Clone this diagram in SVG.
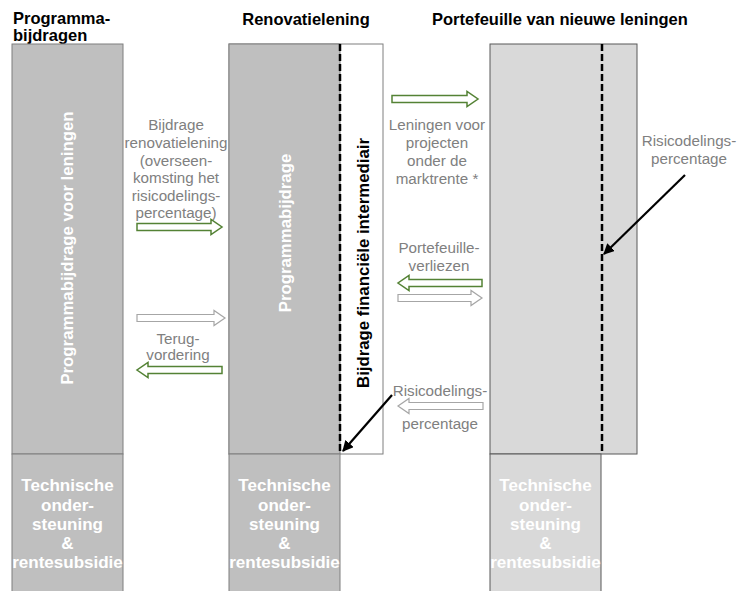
<svg xmlns="http://www.w3.org/2000/svg" width="737" height="591" viewBox="0 0 737 591">
<defs>
<style>
.title{font-family:"Liberation Sans",Arial,sans-serif;font-weight:bold;font-size:16.5px;fill:#000}
.lbl{font-family:"Liberation Sans",Arial,sans-serif;font-size:15.2px;fill:#808080;text-anchor:middle}
.bot{font-family:"Liberation Sans",Arial,sans-serif;font-weight:bold;font-size:17px;fill:#fff;text-anchor:middle}
.vert{font-family:"Liberation Sans",Arial,sans-serif;font-weight:bold;font-size:16.8px;text-anchor:middle}
.dark{fill:#bfbfbf;stroke:#7f7f7f;stroke-width:1}
.light{fill:#d9d9d9;stroke:#595959;stroke-width:1}
.white{fill:#fff;stroke:#7f7f7f;stroke-width:1}
.dash{stroke:#000;stroke-width:2.5;stroke-dasharray:7,3;fill:none}
.garr{fill:#fff;stroke:#548235;stroke-width:1.5}
.warr{fill:#fff;stroke:#a6a6a6;stroke-width:1.2}
.pointer{stroke:#000;stroke-width:2.2;fill:none;marker-end:url(#ah)}
</style>
<marker id="ah" viewBox="0 0 10 10" refX="9" refY="5" markerWidth="5" markerHeight="5" orient="auto" markerUnits="strokeWidth">
<path d="M0,0 L10,5 L0,10 Z" fill="#000"/>
</marker>
</defs>

<g id="titles">
<text class="title" x="13" y="24">Programma-</text>
<text class="title" x="13" y="41">bijdragen</text>
<text class="title" x="306" y="25" text-anchor="middle">Renovatielening</text>
<text class="title" x="432" y="25">Portefeuille van nieuwe leningen</text>
</g>

<g id="col1">
<rect class="dark" x="12" y="44" width="111" height="410"/>
<text class="vert" fill="#fff" transform="translate(73,248) rotate(-90)">Programmabijdrage voor leningen</text>
</g>
<g id="col1-bottom">
<rect class="dark" x="12" y="454" width="111" height="140"/>
<text class="bot" x="67.5" y="491">Technische</text>
<text class="bot" x="67.5" y="511">onder-</text>
<text class="bot" x="67.5" y="530">steuning</text>
<text class="bot" x="67.5" y="549">&amp;</text>
<text class="bot" x="67.5" y="568">rentesubsidie</text>
</g>

<g id="col2">
<rect class="white" x="229" y="44" width="154" height="410"/>
<rect class="dark" x="229" y="44" width="111" height="410"/>
<line class="dash" x1="340" y1="44" x2="340" y2="454"/>
<text class="vert" fill="#fff" transform="translate(291,233) rotate(-90)">Programmabijdrage</text>
<text class="vert" fill="#000" transform="translate(369,263) rotate(-90)">Bijdrage financiële intermediair</text>
</g>
<g id="col2-bottom">
<rect class="dark" x="229" y="454" width="111" height="140"/>
<text class="bot" x="284.5" y="491">Technische</text>
<text class="bot" x="284.5" y="511">onder-</text>
<text class="bot" x="284.5" y="530">steuning</text>
<text class="bot" x="284.5" y="549">&amp;</text>
<text class="bot" x="284.5" y="568">rentesubsidie</text>
</g>

<g id="col3">
<rect class="light" x="490" y="44" width="147" height="410"/>
<line class="dash" x1="602" y1="44" x2="602" y2="454"/>
</g>
<g id="col3-bottom">
<rect class="light" x="490" y="454" width="111" height="140"/>
<text class="bot" x="545.5" y="491" fill="#f2f2f2">Technische</text>
<text class="bot" x="545.5" y="511" fill="#f2f2f2">onder-</text>
<text class="bot" x="545.5" y="530" fill="#f2f2f2">steuning</text>
<text class="bot" x="545.5" y="549" fill="#f2f2f2">&amp;</text>
<text class="bot" x="545.5" y="568" fill="#f2f2f2">rentesubsidie</text>
</g>

<g id="labels">
<text class="lbl" x="176" y="130">Bijdrage</text>
<text class="lbl" x="176" y="148">renovatielening</text>
<text class="lbl" x="176" y="166">(overseen-</text>
<text class="lbl" x="176" y="183">komsting het</text>
<text class="lbl" x="176" y="201">risicodelings-</text>
<text class="lbl" x="176" y="218">percentage)</text>
<text class="lbl" x="178" y="344">Terug-</text>
<text class="lbl" x="178" y="360">vordering</text>
<text class="lbl" x="437" y="130">Leningen voor</text>
<text class="lbl" x="437" y="148">projecten</text>
<text class="lbl" x="437" y="166">onder de</text>
<text class="lbl" x="437" y="184">marktrente *</text>
<text class="lbl" x="439" y="253">Portefeuille-</text>
<text class="lbl" x="439" y="271">verliezen</text>
<text class="lbl" x="440" y="396">Risicodelings-</text>
<text class="lbl" x="440" y="429">percentage</text>
<text class="lbl" x="689" y="146">Risicodelings-</text>
<text class="lbl" x="689" y="164">percentage</text>
</g>

<g id="connectors">
<path class="garr" d="M137,223.5 H211 V219.5 L222,227 L211,234.5 V230.5 H137 Z"/>
<path class="warr" d="M137,314.5 H214 V310.5 L225,318 L214,325.5 V321.5 H137 Z"/>
<path class="garr" d="M222,366.5 H148 V362.5 L137,370 L148,377.5 V373.5 H222 Z"/>
<path class="garr" d="M392,95.5 H467 V91.5 L478,99 L467,106.5 V102.5 H392 Z"/>
<path class="garr" d="M482,279.5 H409 V275.5 L398,283 L409,290.5 V286.5 H482 Z"/>
<path class="warr" d="M398,294.5 H471 V290.5 L482,298 L471,305.5 V301.5 H398 Z"/>
<path class="warr" d="M483,402.5 H409 V398.5 L398,406 L409,413.5 V409.5 H483 Z"/>
<line class="pointer" x1="392" y1="395" x2="343" y2="451"/>
<line class="pointer" x1="685" y1="175" x2="604" y2="254"/>
</g>
</svg>
